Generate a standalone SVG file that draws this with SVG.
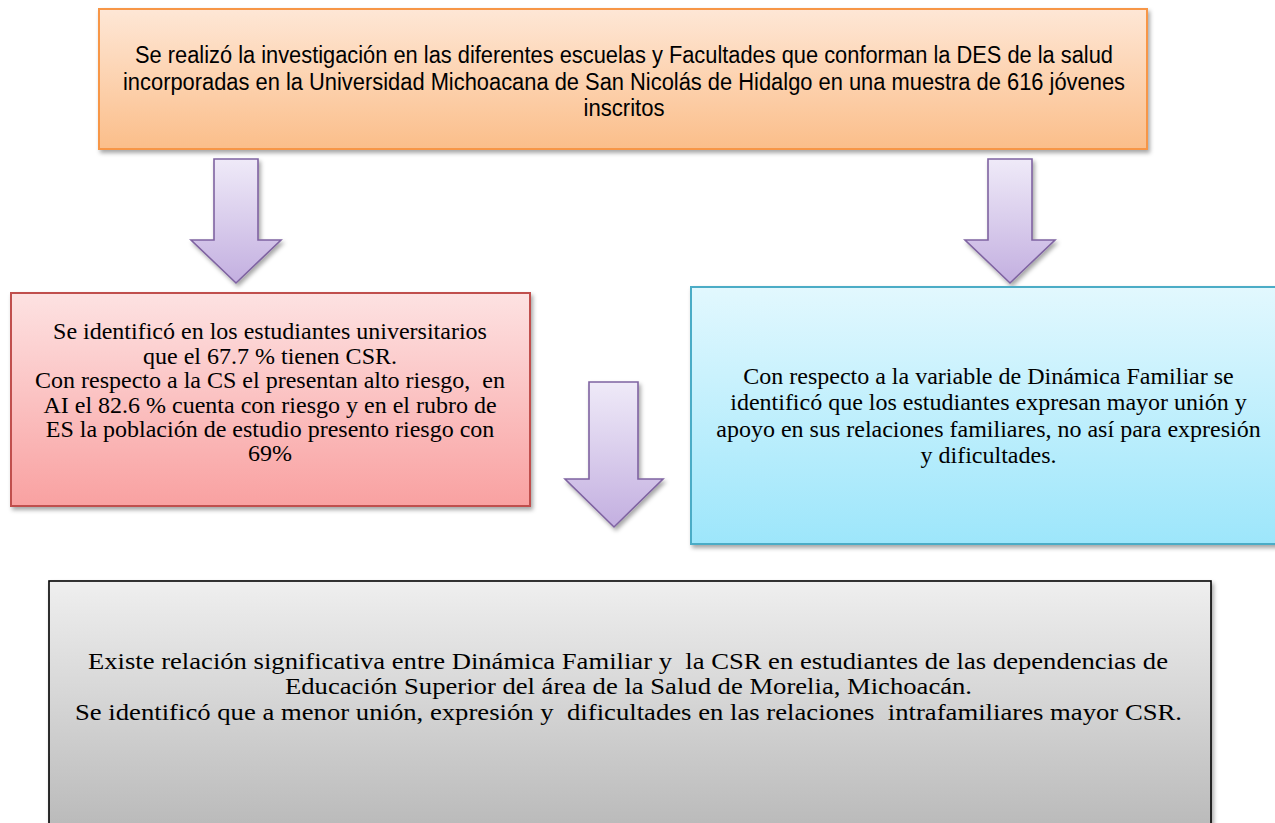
<svg xmlns="http://www.w3.org/2000/svg" width="1275" height="823" viewBox="0 0 1275 823" xml:space="preserve">
<style>
.sans{font-family:"Liberation Sans",Arial,sans-serif;font-size:23px;fill:#000;text-anchor:middle;white-space:pre}
.serif{font-family:"Liberation Serif","Times New Roman",serif;font-size:24px;fill:#000;text-anchor:middle;white-space:pre}
.serifL{font-family:"Liberation Serif","Times New Roman",serif;font-size:24px;fill:#000;text-anchor:middle;white-space:pre}
.arrow{fill:url(#gPurple);stroke:#7f63a1;stroke-width:1.6;stroke-linejoin:miter}
</style>
<defs>
<linearGradient id="gOrange" x1="0" y1="0" x2="0" y2="1"><stop offset="0" stop-color="#fee7d6"/><stop offset="1" stop-color="#fbbe8a"/></linearGradient>
<linearGradient id="gRed" x1="0" y1="0" x2="0" y2="1"><stop offset="0" stop-color="#fde2e2"/><stop offset="1" stop-color="#f9a1a1"/></linearGradient>
<linearGradient id="gBlue" x1="0" y1="0" x2="0" y2="1"><stop offset="0" stop-color="#e2f8fe"/><stop offset="1" stop-color="#9de6fb"/></linearGradient>
<linearGradient id="gGray" x1="0" y1="0" x2="0" y2="1"><stop offset="0" stop-color="#efefef"/><stop offset="1" stop-color="#b5b5b5"/></linearGradient>
<linearGradient id="gPurple" x1="0" y1="0" x2="0" y2="1"><stop offset="0" stop-color="#efeaf8"/><stop offset="1" stop-color="#c3afe0"/></linearGradient>
<filter id="sh" x="-5%" y="-5%" width="112%" height="120%"><feDropShadow dx="2" dy="3" stdDeviation="2" flood-color="#000" flood-opacity="0.35"/></filter>
</defs>
<rect width="1275" height="823" fill="#fff"/>
<g id="connectors">
<path class="arrow" filter="url(#sh)" d="M214,159 H258 V240 H281 L236,283 L191,240 H214 Z"/>
<path class="arrow" filter="url(#sh)" d="M988,159 H1032 V240 H1055 L1010,283 L965,240 H988 Z"/>
<path class="arrow" filter="url(#sh)" d="M589,382 H638 V479 H663 L614,527 L565,479 H589 Z"/>
</g>
<g id="node-top">
<rect x="99" y="9" width="1048" height="140" fill="url(#gOrange)" stroke="#f79646" stroke-width="2" filter="url(#sh)"/>
<text class="sans" x="624" y="63" textLength="978" lengthAdjust="spacingAndGlyphs">Se realizó la investigación en las diferentes escuelas y Facultades que conforman la DES de la salud</text>
<text class="sans" x="624" y="90" textLength="1002" lengthAdjust="spacingAndGlyphs">incorporadas en la Universidad Michoacana de San Nicolás de Hidalgo en una muestra de 616 jóvenes</text>
<text class="sans" x="624" y="116" textLength="81" lengthAdjust="spacingAndGlyphs">inscritos</text>
</g>
<g id="node-red">
<rect x="11" y="293" width="519" height="213" fill="url(#gRed)" stroke="#c0504d" stroke-width="2" filter="url(#sh)"/>
<text class="serif" x="270" y="339">Se identificó en los estudiantes universitarios</text>
<text class="serif" x="270" y="363.5">que el 67.7 % tienen CSR.</text>
<text class="serif" x="270" y="388">Con respecto a la CS el presentan alto riesgo,  en</text>
<text class="serif" x="270" y="412.5">AI el 82.6 % cuenta con riesgo y en el rubro de</text>
<text class="serif" x="270" y="437">ES la población de estudio presento riesgo con</text>
<text class="serif" x="270" y="461">69%</text>
</g>
<g id="node-blue">
<rect x="691" y="287" width="595" height="257" fill="url(#gBlue)" stroke="#4bacc6" stroke-width="2" filter="url(#sh)"/>
<text class="serif" x="988.5" y="384">Con respecto a la variable de Dinámica Familiar se</text>
<text class="serif" x="988.5" y="410">identificó que los estudiantes expresan mayor unión y</text>
<text class="serif" x="988.5" y="436.5">apoyo en sus relaciones familiares, no así para expresión</text>
<text class="serif" x="988.5" y="462.5">y dificultades.</text>
</g>
<g id="node-gray">
<rect x="49" y="581" width="1162" height="270" fill="url(#gGray)" stroke="#000" stroke-width="1.6" filter="url(#sh)"/>
<text class="serifL" x="628" y="668.5" textLength="1080" lengthAdjust="spacingAndGlyphs">Existe relación significativa entre Dinámica Familiar y  la CSR en estudiantes de las dependencias de</text>
<text class="serifL" x="628.5" y="694" textLength="687" lengthAdjust="spacingAndGlyphs">Educación Superior del área de la Salud de Morelia, Michoacán.</text>
<text class="serifL" x="628.5" y="719.5" textLength="1107" lengthAdjust="spacingAndGlyphs">Se identificó que a menor unión, expresión y  dificultades en las relaciones  intrafamiliares mayor CSR.</text>
</g>
</svg>
